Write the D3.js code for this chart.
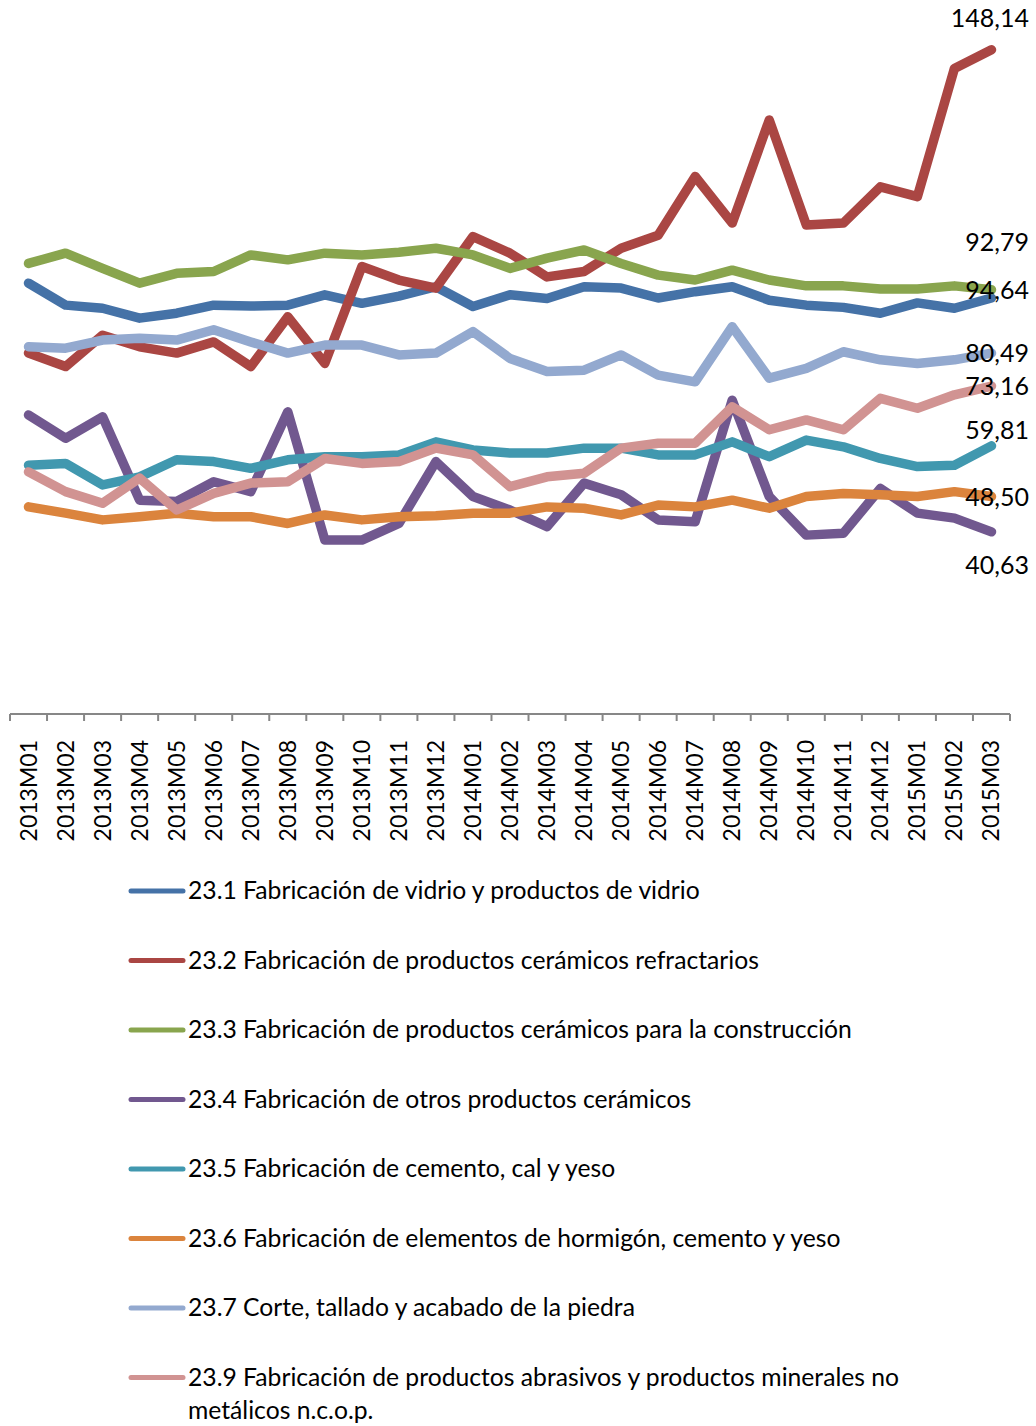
<!doctype html>
<html>
<head>
	<title>indices</title>
	<meta charset="utf-8">
	<script type="text/javascript" src="https://cdn.jsdelivr.net/npm/d3@7"></script>
	<style>
		body { margin: 0; background: #fff; }
		text { font-family: Lato, "Liberation Sans", sans-serif; fill: #000; }
	</style>
</head>
<body>
	<script type="text/javascript">
		var months = ["2013M01","2013M02","2013M03","2013M04","2013M05","2013M06","2013M07","2013M08","2013M09",
			"2013M10","2013M11","2013M12","2014M01","2014M02","2014M03","2014M04","2014M05","2014M06",
			"2014M07","2014M08","2014M09","2014M10","2014M11","2014M12","2015M01","2015M02","2015M03"]

		var vidrio = [96.1,91.2,90.5,88.3,89.4,91.2,91.0,91.2,93.5,91.6,93.2,95.3,90.9,93.5,92.7,95.3,95.0,92.8,94.2,95.3,92.3,91.2,90.7,89.4,91.7,90.5,92.79]
		var refractarios = [80.5,77.5,84.5,81.9,80.5,83.0,77.5,88.6,78.2,99.8,96.8,95.0,106.5,102.8,97.5,98.7,103.9,106.8,119.9,109.5,132.5,109.1,109.5,117.6,115.4,144.0,148.14]
		var construccion = [100.5,102.8,99.4,96.1,98.3,98.7,102.4,101.3,102.8,102.4,103.0,103.9,102.4,99.4,101.7,103.5,100.5,97.9,96.8,99.0,96.8,95.5,95.5,94.8,94.8,95.5,94.64]
		var otrosCeramicos = [66.7,61.5,66.3,47.7,47.4,51.8,49.6,67.4,38.8,38.8,42.5,56.3,48.5,45.5,41.8,51.5,48.9,43.3,42.9,70.0,48.5,39.9,40.3,50.3,44.8,43.7,40.63]
		var cemento = [55.5,55.9,51.1,52.9,56.7,56.3,54.8,56.7,57.4,57.4,57.8,60.7,58.9,58.2,58.2,59.3,59.3,57.8,57.8,60.7,57.4,61.1,59.6,57.0,55.2,55.5,59.81]
		var hormigon = [46.2,44.8,43.3,44.0,44.8,44.0,44.0,42.5,44.4,43.3,44.0,44.2,44.8,44.8,46.2,45.9,44.4,46.6,46.2,47.7,45.9,48.5,49.2,48.9,48.5,49.6,48.50]
		var piedra = [81.9,81.6,83.4,83.8,83.4,85.7,83.0,80.5,82.3,82.3,80.1,80.5,85.3,79.3,76.4,76.7,80.1,75.6,74.1,86.4,74.9,77.1,80.8,79.0,78.2,79.0,80.49]
		var abrasivos = [54.0,49.6,47.0,52.6,45.5,49.2,51.5,51.8,57.0,55.9,56.3,59.3,57.8,50.7,52.9,53.7,59.3,60.4,60.4,68.5,63.4,65.6,63.4,70.4,68.2,71.2,73.16]

		var names = [
			"23.1 Fabricación de vidrio y productos de vidrio",
			"23.2 Fabricación de productos cerámicos refractarios",
			"23.3 Fabricación de productos cerámicos para la construcción",
			"23.4 Fabricación de otros productos cerámicos",
			"23.5 Fabricación de cemento, cal y yeso",
			"23.6 Fabricación de elementos de hormigón, cemento y yeso",
			"23.7 Corte, tallado y acabado de la piedra",
			"23.9 Fabricación de productos abrasivos y productos minerales no|metálicos n.c.o.p."
		]
		var endLabels = ["92,79","148,14","94,64","40,63","59,81","48,50","80,49","73,16"]

		var colors = ["#4572A7","#AA4643","#89A54E","#71588F","#4198AF","#DB843D","#93A9CF","#D19392"]
		var labelShift = [-56,-32,0,33,-16,0,0,0]

		var series = [vidrio, refractarios, construccion, otrosCeramicos, cemento, hormigon, piedra, abrasivos]

		var width = 1036
		var height = 1426
		var svg = d3.select("body")
					.append("svg")
					.attr("width", width)
					.attr("height", height)

		var x = d3.scaleBand()
				.domain(months)
				.range([10, 1010])
		var y = d3.scaleLinear()
				.domain([0, 160])
				.range([714, -3.3])

		// x axis
		var axis = svg.append("g")
				.attr("transform", "translate(0,714)")
				.call(d3.axisBottom(x).tickSize(0).tickPadding(0))
		axis.select(".domain").remove()
		axis.selectAll("text").remove()
		axis.append("line")
			.attr("x1", 10).attr("x2", 1010)
			.attr("y1", 0).attr("y2", 0)
			.attr("stroke", "#878787")
			.attr("stroke-width", 2)
		axis.selectAll(".sep")
			.data(months.concat(["end"]))
			.enter()
			.append("line")
			.attr("x1", function(d, i) { return 10 + i * x.step() })
			.attr("x2", function(d, i) { return 10 + i * x.step() })
			.attr("y1", 0).attr("y2", 7)
			.attr("stroke", "#878787")
			.attr("stroke-width", 2)

		svg.selectAll(".mlabel")
			.data(months)
			.enter()
			.append("text")
			.attr("class", "mlabel")
			.attr("transform", function(d) {
				return "translate(" + (x(d) + x.bandwidth() / 2 + 8) + ",740) rotate(-90)"
			})
			.attr("text-anchor", "end")
			.attr("font-size", "23px")
			.text(function(d) { return d })

		var line = d3.line()
				.x(function(d, i) { return x(months[i]) + x.bandwidth() / 2 })
				.y(function(d) { return y(d) })

		svg.selectAll(".serie")
			.data(series)
			.enter()
			.append("path")
			.attr("class", "serie")
			.attr("d", line)
			.attr("fill", "none")
			.attr("stroke", function(d, i) { return colors[i] })
			.attr("stroke-width", 9.5)
			.attr("stroke-linejoin", "round")
			.attr("stroke-linecap", "round")

		svg.selectAll(".endlabel")
			.data(series)
			.enter()
			.append("text")
			.attr("class", "endlabel")
			.attr("x", 1029)
			.attr("y", function(d, i) { return y(d[d.length - 1]) + labelShift[i] + 9 })
			.attr("text-anchor", "end")
			.attr("font-size", "25px")
			.text(function(d, i) { return endLabels[i] })

		// legend
		var legend = svg.selectAll(".leg")
			.data(names)
			.enter()
			.append("g")
			.attr("class", "leg")
			.attr("transform", function(d, i) { return "translate(0," + (891 + i * 69.5) + ")" })

		legend.append("line")
			.attr("x1", 131).attr("x2", 183)
			.attr("y1", 0).attr("y2", 0)
			.attr("stroke", function(d, i) { return colors[i] })
			.attr("stroke-width", 5)
			.attr("stroke-linecap", "round")

		legend.append("text")
			.attr("x", 188)
			.attr("y", 8)
			.attr("font-size", "24.7px")
			.each(function(d) {
				var parts = d.split("|")
				var t = d3.select(this)
				parts.forEach(function(p, k) {
					t.append("tspan")
						.attr("x", 188)
						.attr("dy", k == 0 ? 0 : 33)
						.text(p)
				})
			})
	</script>
</body>
</html>
